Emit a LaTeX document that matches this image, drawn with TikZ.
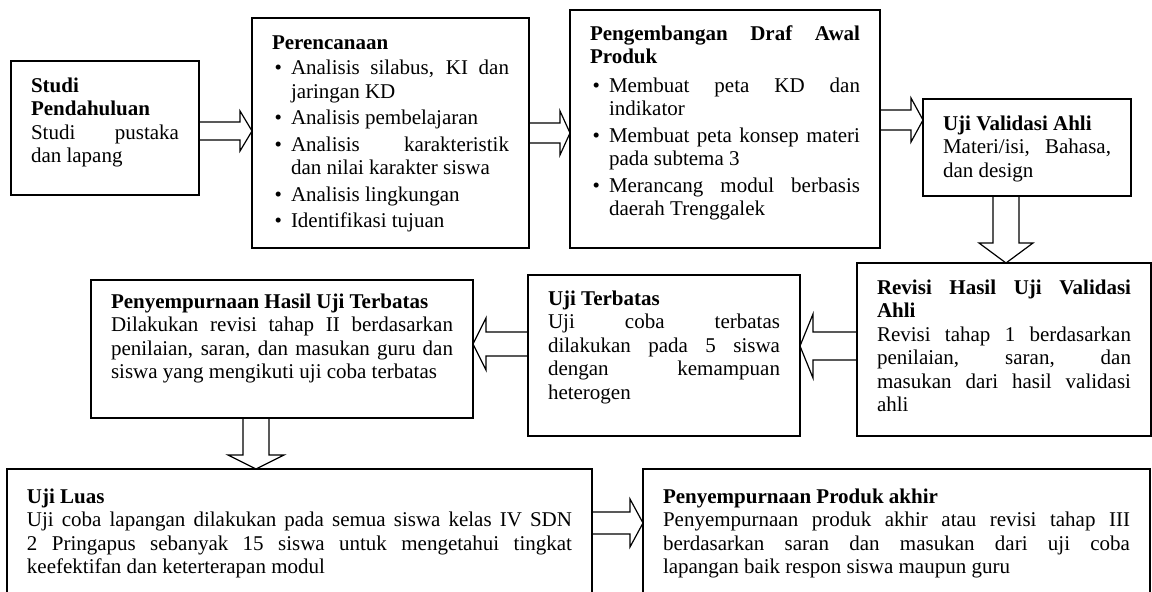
\documentclass[tikz,border=0pt]{standalone}
\usepackage{fontspec}
\setmainfont{Liberation Serif}
\usepackage{enumitem}
\setlist[itemize]{leftmargin=19pt, labelsep=9pt, topsep=2pt, itemsep=3pt,
                  parsep=0pt, partopsep=0pt}
\usetikzlibrary{calc}
\hyphenpenalty=10000
\exhyphenpenalty=10000
\tolerance=10000
% hollow block arrows: from, to, level, direction, shaft, head, head length
\newcommand\harrow[7]{%
  \draw[blk] let \p1=(#1 |- 0,#3), \p2=(#2 |- 0,#3) in
    ({\x1},{\y1+#5}) -- ({\x2-(#4)*#7},{\y1+#5}) -- ({\x2-(#4)*#7},{\y1+#6})
    -- ({\x2},{\y1}) -- ({\x2-(#4)*#7},{\y1-#6}) -- ({\x2-(#4)*#7},{\y1-#5})
    -- ({\x1},{\y1-#5});}
\newcommand\varrow[6]{%
  \draw[blk] let \p1=(#1 -| #3,0), \p2=(#2 -| #3,0) in
    ({\x1-#4},{\y1}) -- ({\x1-#4},{\y2+#6}) -- ({\x1-#5},{\y2+#6})
    -- ({\x1},{\y2}) -- ({\x1+#5},{\y2+#6}) -- ({\x1+#4},{\y2+#6})
    -- ({\x1+#4},{\y1});}

\begin{document}
\begin{tikzpicture}[x=1pt, y=-1pt,
      font = \fontsize{21}{23.5}\selectfont,
       box/.style n args = {3}{draw, line width=1.5pt, anchor=north west,
                     outer sep=0pt, inner xsep=20pt, inner ysep=0pt,
                     text width=#1, text height=#2, text depth=#3,
                     align=justify},
       blk/.style = {line width=1.2pt, line join=miter},
                    ]
\useasboundingbox (0,0) rectangle (1152,592);
    % first row
    \node[box={148pt}{31pt}{103pt}] (studi) at (11,61)
        {\textbf{Studi Pendahuluan}\par
         Studi pustaka \linebreak dan lapang};
    \node[box={237pt}{31pt}{199pt}] (per) at (252,18)
        {\textbf{Perencanaan}
         \begin{itemize}
         \item Analisis silabus, KI dan \linebreak jaringan KD
         \item Analisis pembelajaran
         \item Analisis karakteristik \linebreak dan nilai karakter siswa
         \item Analisis lingkungan
         \item Identifikasi tujuan
         \end{itemize}};
    \node[box={270pt}{30pt}{208pt}] (peng) at (570,10)
        {\textbf{Pengembangan Draf Awal \linebreak Produk}
         \begin{itemize}[topsep=5pt]
         \item Membuat peta KD dan \linebreak indikator
         \item Membuat peta konsep materi \linebreak pada subtema 3
         \item Merancang modul berbasis \linebreak daerah Trenggalek
         \end{itemize}};
    \node[box={168pt}{31pt}{66pt}] (val) at (923,99)
        {\textbf{Uji Validasi Ahli}\par
         Materi/isi, Bahasa, \linebreak dan design};
    % second row
    \node[box={254pt}{31pt}{142pt}] (rev) at (857,263)
        {\textbf{Revisi Hasil Uji Validasi \linebreak Ahli}\par
         Revisi tahap 1 berdasarkan \linebreak penilaian, saran, dan
         \linebreak masukan dari hasil validasi \linebreak ahli};
    \node[box={232pt}{30pt}{131pt}] (ujt) at (528,275)
        {\textbf{Uji Terbatas}\par
         Uji coba terbatas \linebreak dilakukan pada 5 siswa
         \linebreak dengan kemampuan \linebreak heterogen};
    \node[box={342pt}{28pt}{110pt}] (pht) at (91,280)
        {\textbf{Penyempurnaan Hasil Uji Terbatas}\par
         Dilakukan revisi tahap II berdasarkan \linebreak penilaian, saran,
         dan masukan guru dan \linebreak siswa yang mengikuti uji coba terbatas};
    % third row
    \node[box={545pt}{34pt}{90pt}] (luas) at (7,469)
        {\textbf{Uji Luas}\par
         Uji coba lapangan dilakukan pada semua siswa kelas IV SDN
         \linebreak 2 Pringapus sebanyak 15 siswa untuk mengetahui tingkat
         \linebreak keefektifan dan keterterapan modul};
    \node[box={467pt}{34pt}{90pt}] (prod) at (643,469)
        {\textbf{Penyempurnaan Produk akhir}\par
         Penyempurnaan produk akhir atau revisi tahap III \linebreak
         berdasarkan saran dan masukan dari uji coba \linebreak
         lapangan baik respon siswa maupun guru};
    %% block arrows
    \harrow{studi.east}{per.west}{131}{1}{9}{20}{12}
    \harrow{per.east}{peng.west}{133}{1}{10}{22}{10}
    \harrow{peng.east}{val.west}{120}{1}{10}{22}{12}
    \varrow{val.south}{rev.north}{1006}{13}{27}{20}
    \harrow{rev.west}{ujt.east}{346}{-1}{14}{32}{13}
    \harrow{ujt.west}{pht.east}{344}{-1}{12}{26}{13}
    \varrow{pht.south}{luas.north}{256}{13}{28}{14}
    \harrow{luas.east}{prod.west}{523}{1}{11}{24}{13}
\end{tikzpicture}
\end{document}
